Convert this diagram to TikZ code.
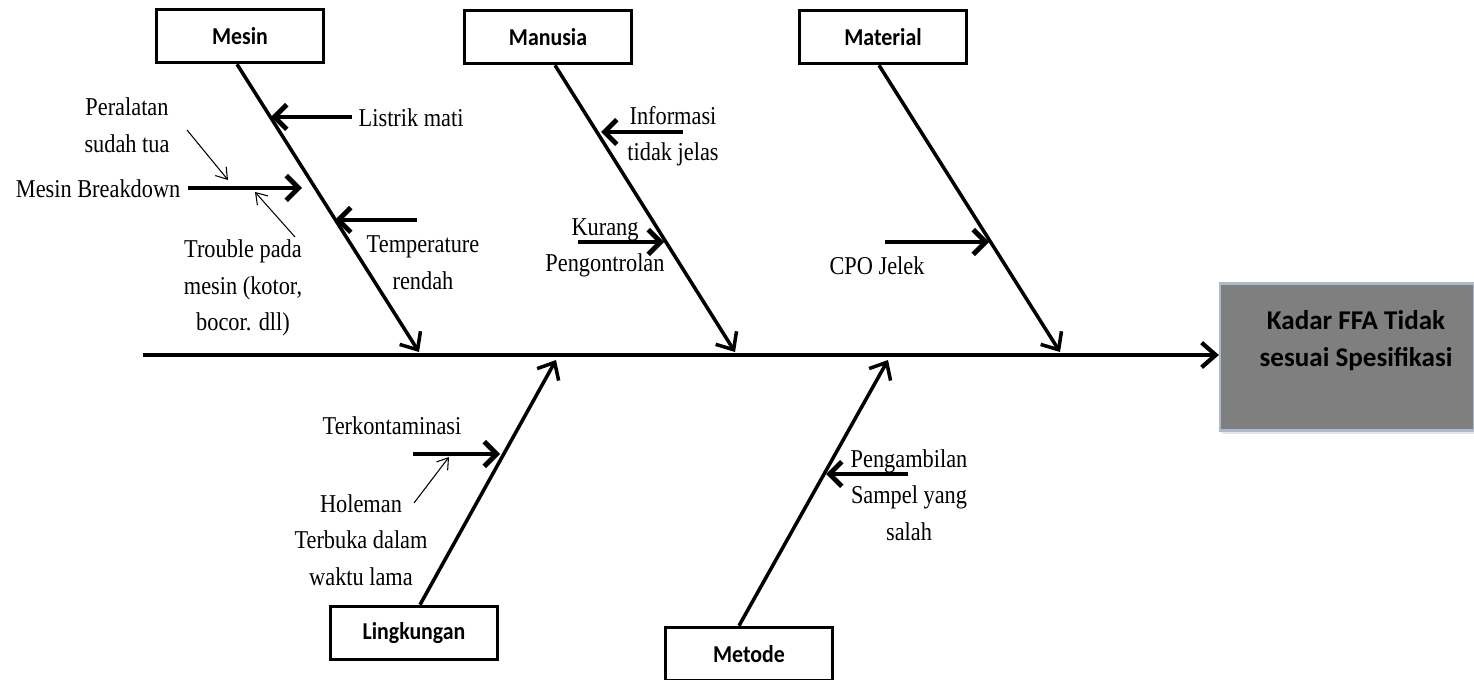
\documentclass[tikz,border=0pt]{standalone}
\usepackage{fontspec}
\setmainfont{Liberation Serif}[FakeStretch=0.87]
\newfontfamily\calibri{Carlito}[FakeStretch=0.9]
\newfontfamily\calibriwide{Carlito}
\usepackage{tikz}
\usetikzlibrary{positioning, arrows.meta, shadows}

\begin{document}
\begin{tikzpicture}[x=0.01cm, y=-0.01cm,
  cause/.style={draw, line width=1pt, minimum width=1.67cm, minimum height=0.53cm, inner sep=0pt, font=\calibri\bfseries\fontsize{6.9}{7}\selectfont},
  txt/.style={align=center, inner sep=0pt, font=\fontsize{7.3}{10.4}\selectfont},
  bone/.style={line width=1pt, -{Straight Barb[length=4pt,width=7pt]}},
  sub/.style={line width=1.4pt, -{Straight Barb[length=3.5pt,width=7pt]}},
  thin/.style={line width=0.3pt, -{Straight Barb[length=3pt,width=4pt]}}]
  \useasboundingbox (0,0) rectangle (1474,680);
  % effect box
  \node[fill={rgb,255:red,127;green,127;blue,127}, draw={rgb,255:red,175;green,185;blue,205}, line width=0.6pt,
        minimum width=2.54cm, minimum height=1.47cm, inner sep=0pt,
        drop shadow={opacity=0.2, shadow xshift=0.5pt, shadow yshift=-1pt}] (ffa) at (1347,357) {};
  \node[align=center, inner sep=0pt, font=\calibriwide\bfseries\fontsize{7.7}{10.5}\selectfont] (ffatext) at (1356,341) {Kadar FFA Tidak\\sesuai Spesifikasi};
  % spine
  \coordinate (spineL) at (143,355);
  \draw[line width=1.2pt, -{Straight Barb[length=4pt,width=7pt]}] (spineL) -- (spineL -| ffa.west);
  % cause boxes
  \node[cause] (mesin) at (240,36) {Mesin};
  \node[cause] (manusia) at (548,37) {Manusia};
  \node[cause] (material) at (883,37) {Material};
  \node[cause] (lingk) at (414,633) {Lingkungan};
  \node[cause] (metode) at (749,654) {Metode};
  \coordinate (mesinTip) at (419,352);
  \coordinate (manusiaTip) at (735,352);
  \coordinate (materialTip) at (1060,352);
  \coordinate (lingkTip) at (556,360);
  \coordinate (metodeTip) at (888,360);
  \draw[bone] ([xshift=-0.03cm]mesin.south) -- (mesinTip);
  \draw[bone] ([xshift=0.07cm]manusia.south) -- (manusiaTip);
  \draw[bone] ([xshift=-0.04cm]material.south) -- (materialTip);
  \draw[bone] ([xshift=0.06cm]lingk.north) -- (lingkTip);
  \draw[bone] ([xshift=-0.1cm]metode.north) -- (metodeTip);
  % Mesin
  \node[txt, anchor=west] (listrik) at (358,118) {Listrik mati};
  \node[txt] (temp) at (423,263) {Temperature\\rendah};
  \node[txt, anchor=east] (breakdown) at (181,189) {Mesin Breakdown};
  \node[txt] (tua) at (127,125) {Peralatan\\sudah tua};
  \node[txt] (trouble) at (243,288) {Trouble pada\\mesin (kotor,\\bocor. dll)};
  \coordinate (listrikA) at (352,117);  \coordinate (listrikB) at (271,117);
  \coordinate (tempA) at (417,220);     \coordinate (tempB) at (335,220);
  \coordinate (breakA) at (188,188);    \coordinate (breakB) at (302,188);
  \coordinate (tuaA) at (187,130);      \coordinate (tuaB) at (228,180);
  \coordinate (troubleA) at (295,237);  \coordinate (troubleB) at (255,192);
  \draw[sub] (listrikA) -- (listrikB);
  \draw[sub] (tempA) -- (tempB);
  \draw[sub] (breakA) -- (breakB);
  \draw[thin] (tuaA) -- (tuaB);
  \draw[thin] (troubleA) -- (troubleB);
  % Manusia
  \node[txt] (info) at (673,136) {Informasi\\tidak jelas};
  \node[txt] (kurang) at (605,248) {Kurang\\Pengontrolan};
  \coordinate (infoA) at (683,132);     \coordinate (infoB) at (601,132);
  \coordinate (kurangA) at (578,242);   \coordinate (kurangB) at (664,242);
  \draw[sub] (infoA) -- (infoB);
  \draw[sub] (kurangA) -- (kurangB);
  % Material
  \node[txt] (cpo) at (877,266) {CPO Jelek};
  \coordinate (cpoA) at (885,242);      \coordinate (cpoB) at (989,242);
  \draw[sub] (cpoA) -- (cpoB);
  % Lingkungan
  \node[txt] (kontam) at (392,426) {Terkontaminasi};
  \node[txt] (holeman) at (361,540) {Holeman\\Terbuka dalam\\waktu lama};
  \coordinate (kontA) at (413,454);     \coordinate (kontB) at (500,454);
  \coordinate (holeA) at (414,503);     \coordinate (holeB) at (449,457);
  \draw[sub] (kontA) -- (kontB);
  \draw[thin] (holeA) -- (holeB);
  % Metode
  \node[txt] (ambil) at (909,495) {Pengambilan\\Sampel yang\\salah};
  \coordinate (ambilA) at (908,474);    \coordinate (ambilB) at (826,474);
  \draw[sub] (ambilA) -- (ambilB);
\end{tikzpicture}
\end{document}
